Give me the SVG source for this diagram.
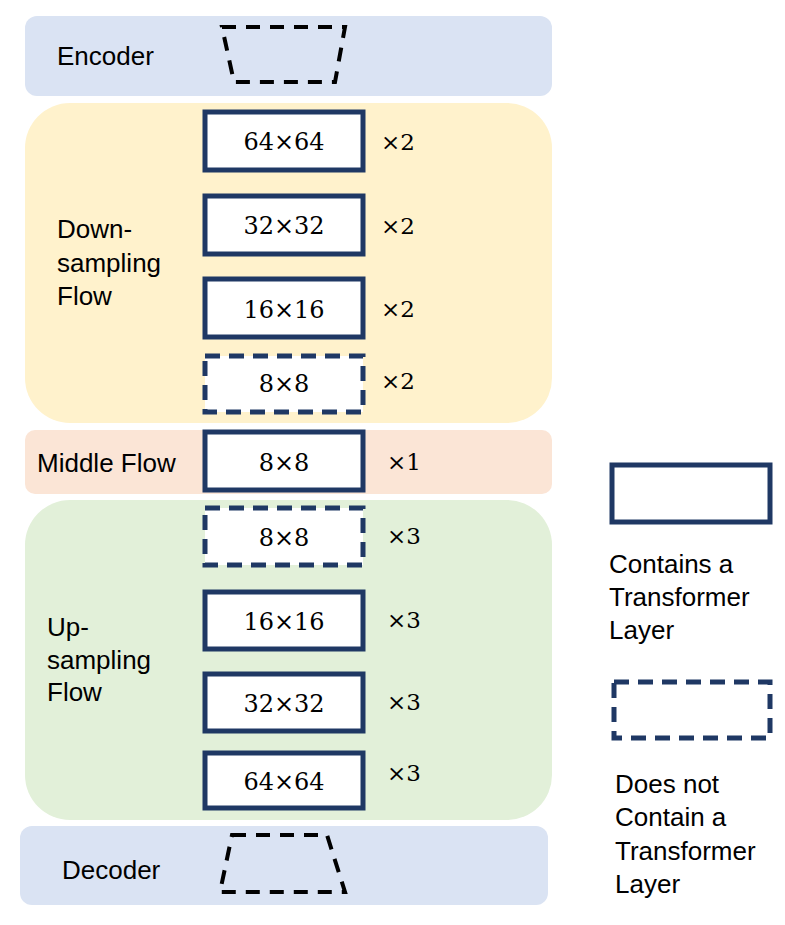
<svg xmlns="http://www.w3.org/2000/svg" width="785" height="925" viewBox="0 0 785 925">
<style>
.lbl{font-family:"Liberation Sans",Arial,sans-serif;font-size:26px;fill:#000}
.num{font-family:"DejaVu Serif","Liberation Serif",serif;font-size:24px;fill:#000;text-anchor:middle}
.mul{font-family:"DejaVu Serif","Liberation Serif",serif;font-size:23px;fill:#000}
.solid{fill:#fff;stroke:#1f3864;stroke-width:5}
.dash{fill:#fff;stroke:#1f3864;stroke-width:5;stroke-dasharray:15 9}
.trap{fill:none;stroke:#000;stroke-width:4;stroke-dasharray:14 10}
</style>
<rect width="785" height="925" fill="#fff"/>
<g id="encoder">
<rect x="25" y="16" width="527" height="80" rx="12" fill="#dae3f3"/>
<text class="lbl" x="57" y="65">Encoder</text>
<polygon class="trap" points="222,27 345,27 335,82 234,82"/>
</g>
<g id="downsampling">
<rect x="25" y="103" width="527" height="320" rx="45" fill="#fff2cc"/>
<text class="lbl" x="57" y="238">Down-</text>
<text class="lbl" x="57" y="272">sampling</text>
<text class="lbl" x="57" y="305">Flow</text>
</g>
<g id="middle">
<rect x="25" y="430" width="527" height="64" rx="10" fill="#fbe5d6"/>
<text class="lbl" x="37" y="472">Middle Flow</text>
</g>
<g id="upsampling">
<rect x="25" y="500" width="527" height="320" rx="45" fill="#e2f0d9"/>
<text class="lbl" x="47" y="636">Up-</text>
<text class="lbl" x="47" y="669">sampling</text>
<text class="lbl" x="47" y="701">Flow</text>
</g>
<g id="decoder">
<rect x="20" y="826" width="528" height="79" rx="12" fill="#dae3f3"/>
<text class="lbl" x="62" y="879">Decoder</text>
<polygon class="trap" points="232,835 327,835 345,892 220,892"/>
</g>
<g id="d64">
<rect class="solid" x="205" y="112" width="158" height="58"/>
<text class="num" x="284" y="150">64×64</text>
<text class="mul" x="381" y="150">×2</text>
</g>
<g id="d32">
<rect class="solid" x="205" y="196" width="158" height="58"/>
<text class="num" x="284" y="234">32×32</text>
<text class="mul" x="381" y="234">×2</text>
</g>
<g id="d16">
<rect class="solid" x="205" y="279" width="158" height="58"/>
<text class="num" x="284" y="318">16×16</text>
<text class="mul" x="381" y="317">×2</text>
</g>
<g id="d8">
<rect class="dash" x="205" y="356" width="158" height="56"/>
<text class="num" x="284" y="392">8×8</text>
<text class="mul" x="381" y="389">×2</text>
</g>
<g id="m8">
<rect class="solid" x="205" y="432" width="158" height="58"/>
<text class="num" x="284" y="471">8×8</text>
<text class="mul" x="387" y="470">×1</text>
</g>
<g id="u8">
<rect class="dash" x="205" y="508" width="158" height="57"/>
<text class="num" x="284" y="546">8×8</text>
<text class="mul" x="387" y="544">×3</text>
</g>
<g id="u16">
<rect class="solid" x="205" y="592" width="158" height="57"/>
<text class="num" x="284" y="630">16×16</text>
<text class="mul" x="387" y="628">×3</text>
</g>
<g id="u32">
<rect class="solid" x="205" y="674" width="158" height="57"/>
<text class="num" x="284" y="712">32×32</text>
<text class="mul" x="387" y="710">×3</text>
</g>
<g id="u64">
<rect class="solid" x="205" y="753" width="158" height="55"/>
<text class="num" x="284" y="790">64×64</text>
<text class="mul" x="387" y="781">×3</text>
</g>
<g id="legend-solid">
<rect class="solid" x="612" y="465" width="158" height="57"/>
<text class="lbl" x="609" y="573">Contains a</text>
<text class="lbl" x="609" y="606">Transformer</text>
<text class="lbl" x="609" y="639">Layer</text>
</g>
<g id="legend-dashed">
<rect class="dash" x="614" y="682" width="156" height="56"/>
<text class="lbl" x="615" y="793">Does not</text>
<text class="lbl" x="615" y="826">Contain a</text>
<text class="lbl" x="615" y="860">Transformer</text>
<text class="lbl" x="615" y="893">Layer</text>
</g>
<g id="connectors"></g>
</svg>
